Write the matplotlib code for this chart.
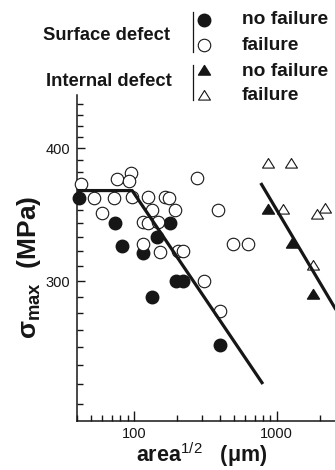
import matplotlib
matplotlib.use('Agg')
import matplotlib.pyplot as plt
from matplotlib.lines import Line2D
from matplotlib.path import Path
from matplotlib.ticker import FixedLocator, NullFormatter, FixedFormatter

plt.rcParams['font.family'] = 'Liberation Sans'
plt.rcParams['mathtext.fontset'] = 'custom'
plt.rcParams['mathtext.rm'] = 'Liberation Sans'
plt.rcParams['mathtext.bf'] = 'Liberation Sans:bold'

# surface defect, no failure (filled circles)
surf_nofail_x = [41, 74, 82, 116, 145, 179, 197, 220, 134, 400]
surf_nofail_y = [359, 340, 324, 319, 330, 340, 300, 300, 290, 261]

# surface defect, failure (open circles)
surf_fail_x = [42.5, 52, 72, 96, 76, 95, 91.5, 60, 126, 165, 176, 133, 195,
               116, 126, 148, 116, 152, 204, 219, 276, 390, 497, 626, 309, 400]
surf_fail_y = [370, 359, 359, 360, 374, 379, 373, 348, 360, 360, 359.5, 350, 350,
               341, 340, 341, 325, 319.5, 320, 320, 375, 350, 325, 325, 300, 281]

# internal defect, no failure (filled triangles)
int_nofail_x = [873, 1274, 1805]
int_nofail_y = [350, 325, 291]

# internal defect, failure (open triangles)
int_fail_x = [873, 1253, 1112, 2180, 1925, 1805]
int_fail_y = [387, 387, 350, 351, 346, 310]

# fitted lines
surf_line_x = [40, 97, 800]
surf_line_y = [365, 365, 240]
int_line_x = [773, 3000]
int_line_y = [371, 273]

x_major = [100, 1000]
x_minor = [40, 50, 60, 70, 80, 90, 200, 300, 400, 500, 600, 700, 800, 900, 2000]
y_major = [300, 400]
y_minor = [230, 240, 250, 260, 270, 280, 290, 310, 320, 330, 340, 350, 360,
           370, 380, 390, 410, 420, 430, 440]

ink = '#161616'
tri = Path([(-1, -0.6), (1, -0.6), (0, 1), (-1, -0.6)],
           [Path.MOVETO, Path.LINETO, Path.LINETO, Path.CLOSEPOLY])

fig = plt.figure(figsize=(3.35, 4.70), dpi=100)
ax = fig.add_axes([76.5 / 335, 49 / 470, 1 - 76.5 / 335, 326 / 470])
ax.set_xscale('log')
ax.set_yscale('log')
ax.set_xlim(39.5, 2563)
ax.set_ylim(221.5, 449)

ax.plot(surf_line_x, surf_line_y, color=ink, lw=2.3, zorder=4, solid_capstyle='butt')
ax.plot(int_line_x, int_line_y, color=ink, lw=2.3, zorder=4, solid_capstyle='butt')

ax.plot(surf_nofail_x, surf_nofail_y, 'o', ms=9, color=ink, mec=ink, zorder=2, clip_on=False)
ax.plot(surf_fail_x, surf_fail_y, 'o', ms=9, mfc='white', mec=ink, mew=0.8, zorder=3, clip_on=False)
ax.plot(int_nofail_x, int_nofail_y, marker=tri, ls='none', ms=8.6, color=ink, zorder=2)
ax.plot(int_fail_x, int_fail_y, marker=tri, ls='none', ms=8.6, mfc='white', mec=ink, mew=0.8, zorder=3)

for s in ['top', 'right']:
    ax.spines[s].set_visible(False)
for s in ['left', 'bottom']:
    ax.spines[s].set_linewidth(1.1)
    ax.spines[s].set_color(ink)

ax.xaxis.set_major_locator(FixedLocator(x_major))
ax.xaxis.set_major_formatter(FixedFormatter([str(v) for v in x_major]))
ax.xaxis.set_minor_locator(FixedLocator(x_minor))
ax.xaxis.set_minor_formatter(NullFormatter())
ax.yaxis.set_major_locator(FixedLocator(y_major))
ax.yaxis.set_major_formatter(FixedFormatter([str(v) for v in y_major]))
ax.yaxis.set_minor_locator(FixedLocator(y_minor))
ax.yaxis.set_minor_formatter(NullFormatter())

ax.tick_params(which='both', direction='in', color=ink, width=1.0, labelsize=10.5, labelcolor=ink)
ax.tick_params(axis='x', which='major', length=7, pad=4.5)
ax.tick_params(axis='x', which='minor', length=4.5)
ax.tick_params(axis='y', which='major', length=6, pad=4.5)
ax.tick_params(axis='y', which='minor', length=4)

ax.set_xlabel(r'area$^{1/2}$   (μm)', fontsize=15.5, fontweight='bold', color=ink)
ax.xaxis.set_label_coords(0.483, -0.058)
ax.xaxis.label.set_va('top')
ax.set_ylabel(r'σ$_{\mathbf{max}}$  (MPa)', fontsize=19, fontweight='bold', color=ink)
ax.yaxis.set_label_coords(-0.13, 0.472)

# legend block drawn in figure pixels (from top)
def fx(px):
    return px / 335

def fy(py):
    return 1 - py / 470

fig.text(fx(170), fy(36), 'Surface defect', ha='right', va='center',
         fontsize=13.2, fontweight='bold', color=ink)
fig.text(fx(172), fy(81), 'Internal defect', ha='right', va='center',
         fontsize=13.2, fontweight='bold', color=ink)
fig.add_artist(Line2D([fx(193), fx(193)], [fy(12), fy(52)], color=ink, lw=0.9))
fig.add_artist(Line2D([fx(193), fx(193)], [fy(65), fy(100)], color=ink, lw=0.9))
fig.add_artist(Line2D([fx(204)], [fy(19.5)], marker='o', ms=9, color=ink, ls='none'))
fig.add_artist(Line2D([fx(204)], [fy(45)], marker='o', ms=9, mfc='white', mec=ink, mew=0.8, ls='none'))
fig.add_artist(Line2D([fx(204)], [fy(71)], marker=tri, ms=8.6, color=ink, ls='none'))
fig.add_artist(Line2D([fx(204)], [fy(96)], marker=tri, ms=8.6, mfc='white', mec=ink, mew=0.8, ls='none'))
for py, label in [(19, 'no failure'), (45, 'failure'), (71, 'no failure'), (96, 'failure')]:
    fig.text(fx(242), fy(py), label, ha='left', va='center',
             fontsize=13.8, fontweight='bold', color=ink)

fig.savefig('out.png', dpi=100)
